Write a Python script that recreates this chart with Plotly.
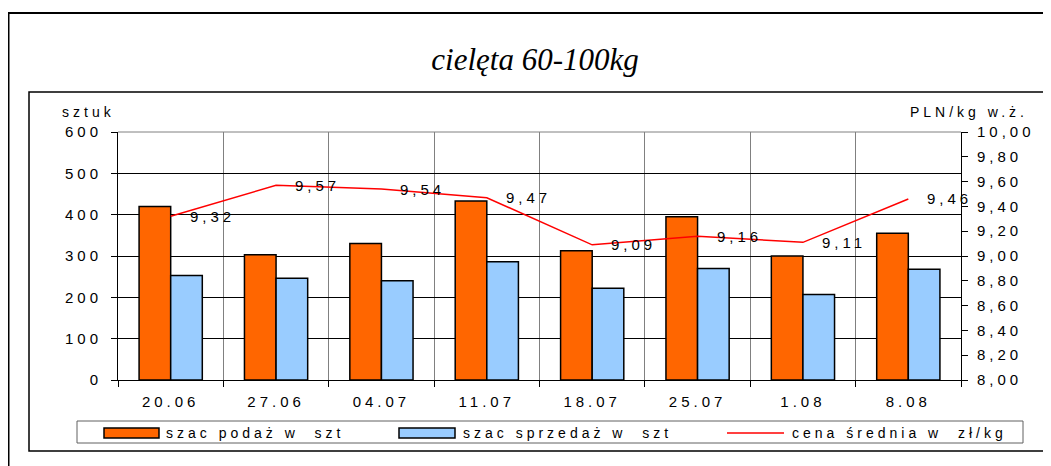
from plotly import graph_objects as go

# data
weeks = ['20.06', '27.06', '04.07', '11.07', '18.07', '25.07', '1.08', '8.08']
supply = [420, 303, 330, 433, 313, 395, 300, 355]
sales = [253, 246, 240, 286, 222, 270, 207, 268]
price = [9.32, 9.57, 9.54, 9.47, 9.09, 9.16, 9.11, 9.46]

ORANGE = '#FF6600'
BLUE = '#99CCFF'
RED = '#FF0000'
FONT = 'Liberation Sans, Arial, sans-serif'

# the page adds an 8px body margin, so work in page pixels and shift by it
PAGE = 8
W, H = 1051 - PAGE, 466 - PAGE
L, R, T, B = 118 - PAGE, 961 - PAGE, 132 - PAGE, 380 - PAGE  # plot area in figure pixels


def px(x):
    '''page pixel x -> paper x'''
    return (x - PAGE - L) / (R - L)


def py(y):
    '''page pixel y -> paper y'''
    return (B - (y - PAGE)) / (B - T)


fig = go.Figure()
fig.add_trace(go.Bar(x=weeks, y=supply, name='szac podaż w  szt',
                     marker=dict(color=ORANGE, line=dict(color='black', width=1.5))))
fig.add_trace(go.Bar(x=weeks, y=sales, name='szac sprzedaż w  szt',
                     marker=dict(color=BLUE, line=dict(color='black', width=1.5))))
fig.add_trace(go.Scatter(x=weeks, y=price, yaxis='y2', mode='lines', name='cena średnia w  zł/kg',
                         line=dict(color=RED, width=1.5)))

# price labels to the right of each point (category index, since '20.06' would parse as a number)
annotations = []
for i, p in enumerate(price):
    annotations.append(dict(x=i, y=p, xref='x', yref='y2', text=f'{p:.2f}'.replace('.', ','),
                            showarrow=False, xanchor='left', align='left', yanchor='middle', xshift=17,
                            font=dict(size=15, color='black', family=FONT)))

# axis titles
annotations.append(dict(x=px(60), y=py(112), xref='paper', yref='paper', text='sztuk', showarrow=False,
                        xanchor='left', align='left', yanchor='middle',
                        font=dict(size=14, color='black', family=FONT)))
annotations.append(dict(x=px(1030), y=py(112), xref='paper', yref='paper', text='PLN/kg w.ż.', showarrow=False,
                        xanchor='right', align='right', yanchor='middle',
                        font=dict(size=14, color='black', family=FONT)))

# hand-made legend (wide swatches like the original)
legend_items = [
    ('rect', ORANGE, 104, 159, 'szac podaż w  szt', 164),
    ('rect', BLUE, 399, 455, 'szac sprzedaż w  szt', 461),
    ('line', RED, 727, 784, 'cena średnia w  zł/kg', 790),
]
shapes = [
    # outer frame
    dict(type='rect', xref='paper', yref='paper', x0=px(8.5), x1=px(1070), y0=py(490), y1=py(13),
         line=dict(color='black', width=2)),
    # inner chart frame
    dict(type='rect', xref='paper', yref='paper', x0=px(29), x1=px(1049), y0=py(451), y1=py(92),
         line=dict(color='black', width=1.5)),
    # plot area top edge
    dict(type='line', xref='paper', yref='paper', x0=0, x1=1, y0=1, y1=1,
         line=dict(color='#808080', width=1)),
    # legend box
    dict(type='rect', xref='paper', yref='paper', x0=px(77), x1=px(1023), y0=py(443), y1=py(421),
         line=dict(color='#606060', width=1)),
]
for kind, color, x0, x1, label, tx in legend_items:
    if kind == 'rect':
        shapes.append(dict(type='rect', xref='paper', yref='paper', x0=px(x0), x1=px(x1),
                           y0=py(438), y1=py(428), fillcolor=color, line=dict(color='black', width=1.5)))
    else:
        shapes.append(dict(type='line', xref='paper', yref='paper', x0=px(x0), x1=px(x1),
                           y0=py(433), y1=py(433), line=dict(color=color, width=1.5)))
    annotations.append(dict(x=px(tx), y=py(433), xref='paper', yref='paper', text=label, showarrow=False,
                            xanchor='left', align='left', yanchor='middle',
                            font=dict(size=14, color='black', family=FONT)))

fig.update_layout(
    width=W, height=H,
    margin=dict(l=L, r=W - R, t=T, b=H - B, autoexpand=False),
    paper_bgcolor='white', plot_bgcolor='white',
    separators=', ',
    barmode='group', bargap=0.4, bargroupgap=0,
    showlegend=False,
    font=dict(family=FONT, size=15, color='black'),
    title=dict(text='cielęta 60-100kg', x=(535 - PAGE) / W, xanchor='center', y=1 - (59 - PAGE) / H,
               yanchor='middle',
               font=dict(family='Liberation Serif, Times New Roman, serif', size=31, style='italic', color='black')),
    xaxis=dict(type='category', range=[-0.5, len(weeks) - 0.5], showline=True, linecolor='black', linewidth=1,
               ticks='outside', ticklen=6, tickcolor='black', tickson='boundaries', tickangle=0,
               ticklabelstandoff=8,
               showgrid=True, gridcolor='#808080', gridwidth=1, tickfont=dict(size=15)),
    yaxis=dict(range=[0, 600], dtick=100, showline=True, linecolor='black', linewidth=1,
               ticks='outside', ticklen=6, tickcolor='black', ticklabelstandoff=6,
               showgrid=True, gridcolor='black', gridwidth=1, zeroline=False, tickfont=dict(size=15)),
    yaxis2=dict(range=[8, 10], dtick=0.2, tickformat='.2f', overlaying='y', side='right',
                showline=True, linecolor='black', linewidth=1, ticks='outside', ticklen=6,
                tickcolor='black', ticklabelstandoff=6, showgrid=False, zeroline=False,
                tickfont=dict(size=15)),
    shapes=shapes,
    annotations=annotations,
)

# the original uses widely spaced lettering; stretch every label except the title
spacing_js = """
var gd = document.getElementById('{plot_id}');
gd.querySelectorAll('text').forEach(function (t) {
    if (!t.classList.contains('gtitle')) { t.setAttribute('letter-spacing', '4px'); }
});
"""

fig.write_html("out.html", post_script=spacing_js)
